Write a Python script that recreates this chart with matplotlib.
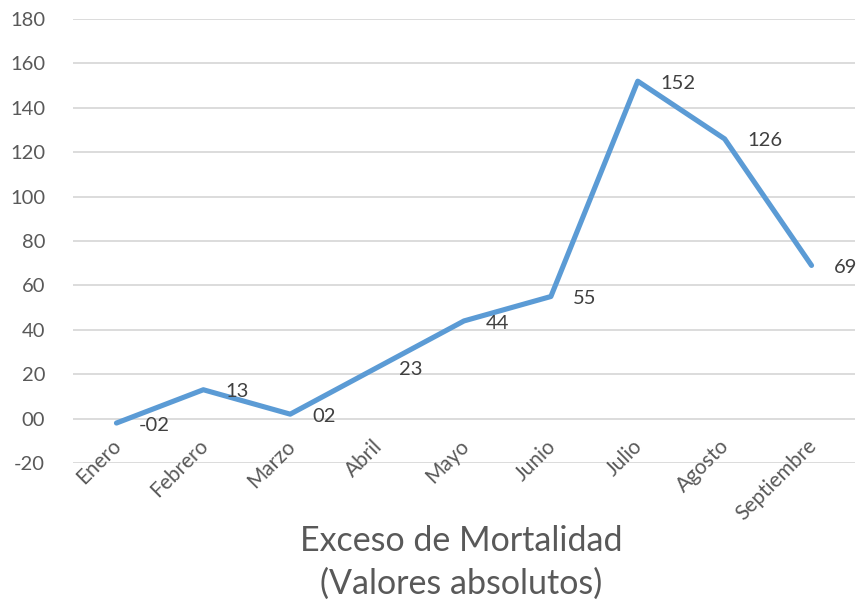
import matplotlib
matplotlib.use("Agg")
import matplotlib.pyplot as plt
import matplotlib.transforms as mtransforms

# monthly excess mortality, absolute values
meses = ['Enero', 'Febrero', 'Marzo', 'Abril', 'Mayo', 'Junio', 'Julio', 'Agosto', 'Septiembre']
exceso = [-2, 13, 2, 23, 44, 55, 152, 126, 69]
y_ticks = [-20, 0, 20, 40, 60, 80, 100, 120, 140, 160, 180]

plt.rcParams['font.family'] = ['Lato', 'DejaVu Sans']

fig = plt.figure(figsize=(8.61, 6.02), dpi=100)
ax = fig.add_axes([0.0848, 0.2309, 0.9082, 0.7375])

x = list(range(len(meses)))
ax.plot(x, exceso, color='#5b9bd5', linewidth=3.7, solid_capstyle='round',
        solid_joinstyle='round', zorder=3)

# data labels to the right of each point, "00" number format
for xi, v in zip(x, exceso):
    txt = ('-' if v < 0 else '') + '%02d' % abs(v)
    ax.annotate(txt, (xi, v), xytext=(16, -1.5), textcoords='offset points',
                ha='left', va='center', fontsize=14.5, color='#404040', zorder=4)

ax.set_xlim(-0.5, len(meses) - 0.5)
ax.set_ylim(-20, 180)
ax.set_yticks(y_ticks)
ax.set_yticklabels([('-' if t < 0 else '') + '%02d' % abs(t) for t in y_ticks])
ax.tick_params(axis='y', length=0, pad=20, labelsize=14.5, labelcolor='#595959')
ax.set_xticks([])
ax.grid(axis='y', color='#d9d9d9', linewidth=1.3)
ax.set_axisbelow(True)
for s in ax.spines.values():
    s.set_visible(False)

# rotated category labels
trans = mtransforms.blended_transform_factory(ax.transData, ax.transAxes)
for xi, m in zip(x, meses):
    ax.text(xi + 0.02, 0.045, m, transform=trans, rotation=45, rotation_mode='anchor',
            ha='right', va='center', fontsize=15, color='#595959', clip_on=False)

fig.text(0.536, 0.066, 'Exceso de Mortalidad\n(Valores absolutos)', ha='center', va='center',
         fontsize=24.5, color='#595959', linespacing=1.42)

fig.savefig('out.png', dpi=100)
